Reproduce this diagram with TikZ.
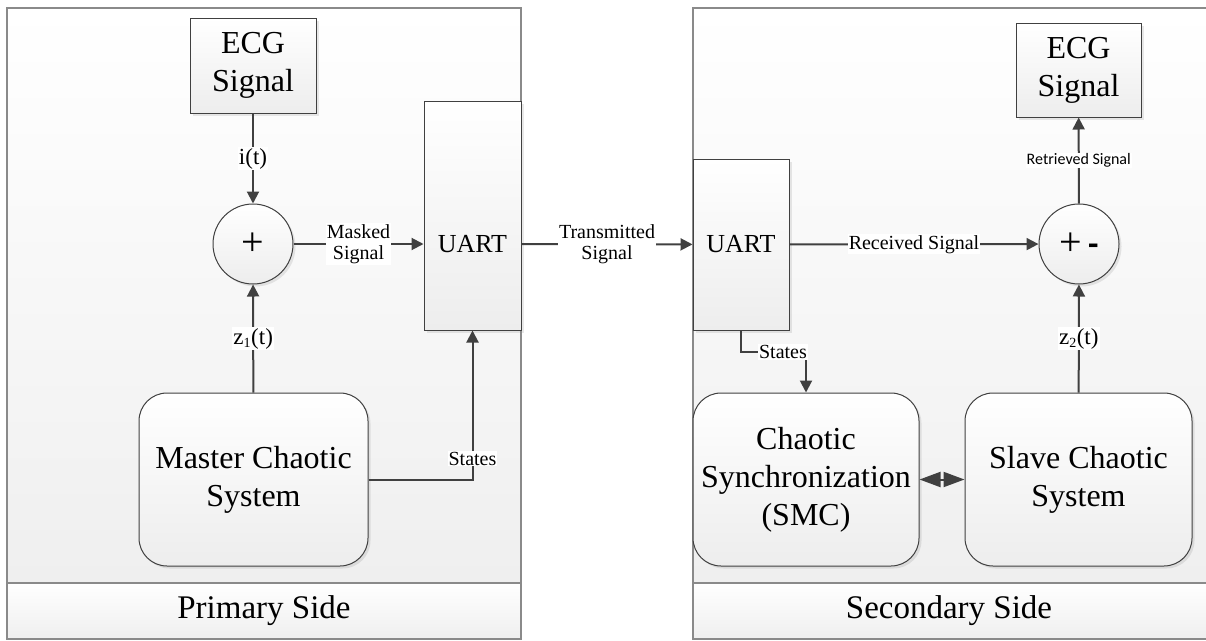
\documentclass[tikz,border=0pt]{standalone}
\usepackage{fontspec}
\setmainfont{Liberation Serif}
\newfontfamily\calfont{Carlito}
\usetikzlibrary{arrows.meta,shadows,calc}
\definecolor{panelgray}{HTML}{8A8A8A}
\definecolor{linecol}{HTML}{404040}
\definecolor{panelbot}{HTML}{EFEFEF}
\definecolor{boxbot}{HTML}{EDEDED}
\begin{document}
\begin{tikzpicture}[x=1pt,y=-1pt,
  panel/.style={draw=panelgray,line width=1.8pt,top color=white,bottom color=panelbot},
  band/.style={draw=panelgray,line width=1.8pt,top color=white,bottom color=panelbot},
  box/.style={draw=linecol,line width=1pt,top color=white,bottom color=boxbot,inner sep=0pt,align=center,
    font=\fontsize{32}{38}\selectfont,
    drop shadow={shadow xshift=2.5pt,shadow yshift=-2.5pt,opacity=0.18,fill=gray}},
  rbox/.style={box,rounded corners=28pt},
  sumnode/.style={box,circle,minimum size=80pt,font=\fontsize{40}{42}\selectfont},
  conn/.style={draw=linecol,line width=2pt,-{Triangle[length=12pt,width=12pt]}},
  dbl/.style={draw=linecol,line width=2pt,{Triangle[length=21pt,width=15pt]}-{Triangle[length=21pt,width=15pt]}},
  lbl/.style={fill=white,inner sep=1pt,align=center,font=\fontsize{20}{21}\selectfont},
  sig/.style={fill=white,inner sep=1pt,font=\fontsize{23}{25}\selectfont},
  uarttext/.style={inner sep=0pt,font=\fontsize{26}{28}\selectfont},
  sidetext/.style={inner sep=0pt,font=\fontsize{33}{36}\selectfont}
]
\useasboundingbox (0,0) rectangle (1206,640);
% panels
\path[panel] (7,8) rectangle (521,583);
\path[band] (7,583) rectangle (521,639);
\path[panel] (693,8) rectangle (1214,583);
\path[band] (693,583) rectangle (1214,639);
\node[sidetext] (primary) at (264,611) {Primary Side};
\node[sidetext] (secondary) at (949,611) {Secondary Side};

% primary side
\node[box,minimum width=126pt,minimum height=95pt] (ecgL) at (253,65.5) {ECG\\Signal};
\node[sumnode] (sumL) at (253,244) {+};
\node[box,minimum width=97pt,minimum height=229pt] (uartL) at (472.5,215.5) {};
\node[uarttext] (uartLt) at (472.5,244) {UART};
\node[rbox,minimum width=229pt,minimum height=173pt] (master) at (253.5,479.5) {Master Chaotic\\System};

% secondary side
\node[box,minimum width=96pt,minimum height=171pt,font=\fontsize{26}{28}\selectfont] (uartR) at (741,244.5) {UART};
\node[sumnode] (sumR) at (1079,244) {+\hspace{6pt}{\calfont\bfseries\fontsize{34}{36}\selectfont -}};
\node[box,minimum width=125pt,minimum height=94pt] (ecgR) at (1078.5,70) {ECG\\Signal};
\node[rbox,minimum width=226pt,minimum height=173pt] (sync) at (806,479.5) {Chaotic\\Synchronization\\(SMC)};
\node[rbox,minimum width=227pt,minimum height=173pt] (slave) at (1078.5,479.5) {Slave Chaotic\\System};

% connectors primary
\draw[conn] (ecgL) -- node[sig] {i(t)} (sumL);
\draw[conn] (master) -- node[sig] {z\textsubscript{\fontsize{14}{14}\selectfont 1}(t)} (sumL);
\draw[conn] (sumL) -- node[lbl] {Masked\\Signal} (sumL.east -| uartL.west);
\draw[conn] (master.east) -| node[lbl,pos=0.57] {States} (uartL.south);
\draw[conn] (uartL.east |- sumL) -- node[lbl] {Transmitted\\Signal} (uartR);

% connectors secondary
\draw[conn] (uartR) -- node[lbl] {Received Signal} (sumR);
\draw[conn] (sumR) -- node[lbl,font=\calfont\fontsize{16}{18}\selectfont] {Retrieved Signal} (ecgR);
\draw[conn] (slave) -- node[sig] {z\textsubscript{\fontsize{14}{14}\selectfont 2}(t)} (sumR);
\coordinate (sc) at (806,352);
\draw[conn] (uartR.south) |- (sc) -- (sync.north);
\node[lbl] (statesR) at (783,352) {States};
\draw[dbl] (sync) -- (slave);
\end{tikzpicture}
\end{document}
